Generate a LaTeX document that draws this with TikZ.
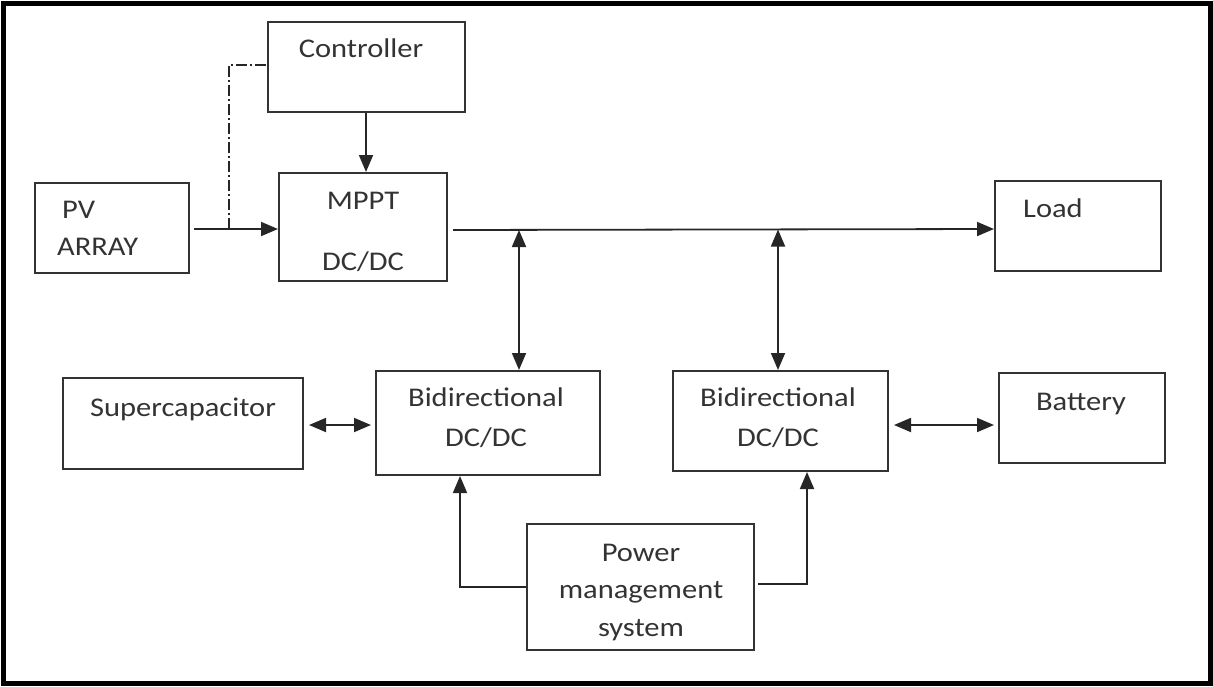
\documentclass[tikz,border=0pt]{standalone}
\usepackage{fontspec}
\setmainfont{Carlito}[FakeStretch=1.13]
\usetikzlibrary{arrows.meta}
\begin{document}
\begin{tikzpicture}[x=1pt,y=-1pt,
  box/.style={draw=black!80,line width=2pt,rectangle,inner sep=0pt},
  txt/.style={text=black!80,font=\fontsize{27}{30}\selectfont,inner sep=0pt,anchor=base},
  conn/.style={draw=black!85,line width=1.8pt},
  tip/.style={-{Triangle[length=17pt,width=14pt]}},
  tips/.style={{Triangle[length=17pt,width=14pt]}-{Triangle[length=17pt,width=14pt]}}]
\useasboundingbox (0,0) rectangle (1213,686);
\draw[line width=5pt] (3,3) rectangle (1210,683);
% boxes
\node[box,minimum width=197pt,minimum height=90pt] (ctrl) at (366.5,67) {};
\node[box,minimum width=168pt,minimum height=108pt] (mppt) at (363,227) {};
\node[box,minimum width=154pt,minimum height=90pt] (pv) at (112,228) {};
\node[box,minimum width=166pt,minimum height=90pt] (load) at (1078,226) {};
\node[box,minimum width=240pt,minimum height=91pt] (sc) at (183,423.5) {};
\node[box,minimum width=224pt,minimum height=104pt] (bd1) at (488,423) {};
\node[box,minimum width=215pt,minimum height=100pt] (bd2) at (780.5,421) {};
\node[box,minimum width=166pt,minimum height=90pt] (bat) at (1082,418) {};
\node[box,minimum width=227pt,minimum height=126pt] (pms) at (640.5,587) {};
% texts
\node[txt] at (361,57) {Controller};
\node[txt] at (363,209) {MPPT};
\node[txt] at (363,270) {DC/DC};
\node[txt,anchor=base west] at (62,218) {PV};
\node[txt,anchor=base west] at (57,255) {ARRAY};
\node[txt,anchor=base west] at (1023,217) {Load};
\node[txt] at (183,416) {Supercapacitor};
\node[txt] at (486,406) {Bidirectional};
\node[txt] at (486,446) {DC/DC};
\node[txt] at (778,406) {Bidirectional};
\node[txt] at (778,446) {DC/DC};
\node[txt] at (1081,410) {Battery};
\node[txt] at (641,561) {Power};
\node[txt] at (641,598) {management};
\node[txt] at (641,636) {system};
% connectors
\coordinate (tap) at (229,229);
\coordinate (b1) at (519,230);
\coordinate (b2) at (778,229.5);
\draw[conn,tip] (pv.east|-tap) ++(4,0) -- (mppt.west|-tap);
\draw[draw=black!85,line width=1.4pt,dash pattern=on 11pt off 3pt on 2pt off 3pt] (tap) -- (229,65) -- (ctrl.west|-0,65);
\draw[conn,tip] (ctrl.south-|366,0) -- (mppt.north-|366,0);
\draw[conn,tip] (mppt.east|-tap) ++(5,1) -- (load.west|-0,229);
\draw[conn,tips] (b1) -- (bd1.north-|b1);
\draw[conn,tips] (b2) -- (bd2.north-|b2);
\draw[conn,tips] (sc.east|-0,425) ++(5,0) -- ([xshift=-4pt]bd1.west|-0,425);
\draw[conn,tips] (bd2.east|-0,425) ++(5,0) -- ([xshift=-4pt]bat.west|-0,425);
\draw[conn,tip] (pms.west|-0,587) -- (460,587) -- (bd1.south-|460,0);
\draw[conn,tip] (pms.east|-0,584) ++(3,0) -- (807,584) -- (bd2.south-|807,0);
\end{tikzpicture}
\end{document}
